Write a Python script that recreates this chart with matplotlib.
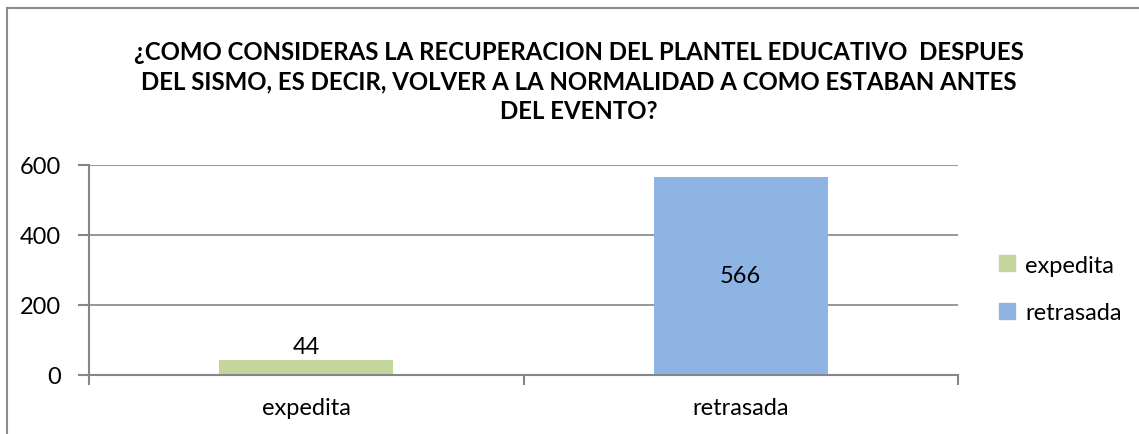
import matplotlib
matplotlib.use("Agg")
import matplotlib.pyplot as plt
from matplotlib.patches import Rectangle
from matplotlib.lines import Line2D

categories = ["expedita", "retrasada"]
values = [44, 566]
colors = ["#C3D69B", "#8EB4E3"]
yticks = [0, 200, 400, 600]
title = ("¿COMO CONSIDERAS LA RECUPERACION DEL PLANTEL EDUCATIVO  DESPUES\n"
         "DEL SISMO, ES DECIR, VOLVER A LA NORMALIDAD A COMO ESTABAN ANTES\n"
         "DEL EVENTO?")

plt.rcParams['font.family'] = ['Lato', 'DejaVu Sans']
W, H = 1139, 435
fig = plt.figure(figsize=(W/100, H/100), dpi=100)

# outer frame (top and left visible)
fig.add_artist(Line2D([7/W, 7/W], [0, 1-9/H], transform=fig.transFigure, color="#8c8c8c", lw=1.5))
fig.add_artist(Line2D([7/W, 1], [1-9/H, 1-9/H], transform=fig.transFigure, color="#8c8c8c", lw=1.5))

FS = 17
ax = fig.add_axes([89/W, 1-376/H, 869/W, 210/H])
x = [0.5, 1.5]
ax.bar(x, values, width=0.4, color=colors, zorder=3)
ax.set_xlim(0, 2)
ax.set_ylim(0, 600)
ax.set_yticks(yticks)
ax.yaxis.grid(True, color="#868686", lw=1.2, zorder=0)
ax.set_xticks(x)
ax.set_xticklabels(categories)
ax.set_xticks([0, 1, 2], minor=True)
ax.tick_params(axis='x', which='major', length=0, pad=16, labelsize=FS)
ax.tick_params(axis='x', which='minor', length=7, width=1.5, color="#868686", direction='out')
ax.tick_params(axis='y', length=8, width=1.5, color="#868686", labelsize=FS, pad=12)
for s in ['top', 'right']:
    ax.spines[s].set_visible(False)
for s in ['left', 'bottom']:
    ax.spines[s].set_color("#868686")
    ax.spines[s].set_linewidth(1.5)
ax.spines['bottom'].set_zorder(4)

# data labels
ax.text(x[0], values[0] + 6, str(values[0]), ha='center', va='bottom', fontsize=FS)
ax.text(x[1], values[1] / 2, str(values[1]), ha='center', va='center', fontsize=FS)

fig.text(579/W, 1-82/H, title, ha='center', va='center', fontsize=17.25,
         fontweight='bold', linespacing=1.35)

# legend
handles = [Rectangle((0, 0), 1, 1, color=c) for c in colors]
fig.legend(handles, categories, loc='center left', bbox_to_anchor=(978/W, 1-290/H),
           frameon=False, fontsize=FS, handlelength=0.65, handleheight=0.65,
           handletextpad=0.45, labelspacing=1.13)

fig.savefig("out.png", dpi=100)
